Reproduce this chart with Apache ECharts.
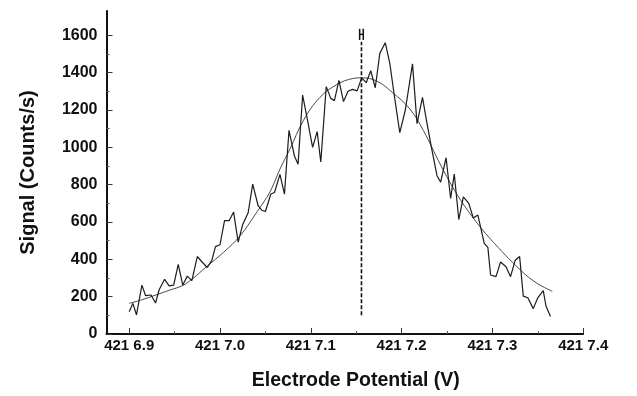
<!DOCTYPE html>
<html>
<head>
<meta charset="utf-8">
<script src="https://cdn.jsdelivr.net/npm/echarts@6/dist/echarts.min.js"></script>
<style>html,body{margin:0;padding:0;background:#fff}#c{width:637px;height:396px}</style>
</head>
<body>
<div id="c"></div>
<script>
// Measured signal (electrode potential V, counts/s)
const potential = [4216.900,4216.904,4216.908,4216.914,4216.918,4216.924,4216.929,4216.933,4216.939,4216.944,
4216.949,4216.954,4216.959,4216.964,4216.969,4216.975,4216.980,4216.986,4216.991,4216.995,
4217.000,4217.005,4217.010,4217.015,4217.020,4217.025,4217.031,4217.036,4217.042,4217.046,
4217.050,4217.056,4217.060,4217.066,4217.071,4217.076,4217.082,4217.086,4217.091,4217.096,
4217.102,4217.107,4217.111,4217.117,4217.122,4217.126,4217.131,4217.136,4217.141,4217.146,
4217.151,4217.156,4217.161,4217.166,4217.171,4217.176,4217.182,4217.187,4217.192,4217.198,
4217.204,4217.212,4217.217,4217.223,4217.228,4217.233,4217.239,4217.243,4217.249,4217.254,
4217.258,4217.263,4217.268,4217.274,4217.279,4217.284,4217.288,4217.291,4217.295,4217.298,
4217.304,4217.309,4217.315,4217.320,4217.325,4217.330,4217.334,4217.339,4217.345,4217.350,
4217.356,4217.359,4217.364];
const signal = [119,164,103,262,206,209,166,237,293,258,
262,373,262,310,286,415,387,356,394,468,
478,607,607,653,492,586,649,803,687,663,
656,750,758,855,749,1091,953,909,1280,1155,
1000,1084,921,1325,1262,1250,1359,1245,1300,1310,
1302,1372,1346,1410,1319,1503,1560,1450,1276,1079,
1197,1447,1127,1267,1127,996,848,813,944,726,
857,613,735,700,621,637,551,485,464,316,
307,386,360,307,394,415,203,194,136,194,
232,150,94];

// Fitted peak curve
const fitPotential = [4216.900,4216.915,4216.944,4216.959,4216.970,4216.985,4217.004,4217.022,4217.041,4217.055,
4217.066,4217.077,4217.092,4217.110,4217.129,4217.146,4217.156,4217.173,4217.190,4217.209,
4217.224,4217.243,4217.261,4217.279,4217.298,4217.331,4217.349,4217.366];
const fitSignal = [164,185,234,260,297,360,438,525,656,761,
883,990,1145,1267,1337,1368,1372,1354,1293,1206,
1090,905,748,621,508,342,272,229];

// Peak centre marker
const centroid = 4217.1558;
const centroidLine = [100, 1565];
const centroidMark = {x0: 4217.1538, x1: 4217.1578, y: 1605, lo: 1575, hi: 1635};

// Axes
const xTicks = [4216.9, 4217.0, 4217.1, 4217.2, 4217.3, 4217.4];
const xTickLabels = ['421 6.9', '421 7.0', '421 7.1', '421 7.2', '421 7.3', '421 7.4'];
const xMinorTicks = [4216.95, 4217.05, 4217.15, 4217.25, 4217.35];
const yTicks = [0, 200, 400, 600, 800, 1000, 1200, 1400, 1600];
const yTickLabels = ['0', '200', '400', '600', '800', '1000', '1200', '1400', '1600'];
const yMinorTicks = [100, 300, 500, 700, 900, 1100, 1300, 1500];
const xMin = 4216.875, xMax = 4217.4, yMin = 0, yMax = 1730;

const chart = echarts.init(document.getElementById('c'), null, {renderer: 'canvas'});
const font = 'Liberation Sans, Arial, Helvetica, sans-serif';
const pick = (ticks, labels) => v => { const i = ticks.findIndex(t => Math.abs(t - v) < 1e-6); return i >= 0 ? labels[i] : ''; };

const option = {
  animation: false,
  backgroundColor: '#fff',
  grid: {left: 106.5, right: 53.8, top: 11, bottom: 54, containLabel: false},
  xAxis: [{
    type: 'value', min: xMin, max: xMax,
    name: 'Electrode Potential (V)', nameLocation: 'middle', nameGap: 37,
    nameTextStyle: {fontFamily: font, fontWeight: 'bold', fontSize: 19.5, color: '#111', padding: [0, 0, 0, 22]},
    axisLine: {show: true, lineStyle: {color: '#111', width: 2}},
    axisTick: {show: true, inside: true, length: 6, customValues: xTicks, lineStyle: {color: '#333', width: 1}},
    axisLabel: {show: true, customValues: xTicks, margin: 4, fontFamily: font, fontWeight: 'bold', fontSize: 15, color: '#111',
      formatter: pick(xTicks, xTickLabels)},
    splitLine: {show: false}
  }, {
    type: 'value', min: xMin, max: xMax, position: 'bottom',
    axisLine: {show: false},
    axisTick: {show: true, inside: true, length: 3, customValues: xMinorTicks, lineStyle: {color: '#555', width: 1}},
    axisLabel: {show: false}, splitLine: {show: false}
  }],
  yAxis: [{
    type: 'value', min: yMin, max: yMax,
    name: 'Signal (Counts/s)', nameLocation: 'middle', nameGap: 68, nameRotate: 90,
    nameTextStyle: {fontFamily: font, fontWeight: 'bold', fontSize: 20, color: '#111'},
    axisLine: {show: true, lineStyle: {color: '#111', width: 2}},
    axisTick: {show: true, inside: true, length: 6, customValues: yTicks, lineStyle: {color: '#333', width: 1}},
    axisLabel: {show: true, customValues: yTicks, margin: 9, fontFamily: font, fontWeight: 'bold', fontSize: 16, color: '#111',
      formatter: pick(yTicks, yTickLabels)},
    splitLine: {show: false}
  }, {
    type: 'value', min: yMin, max: yMax, position: 'left',
    axisLine: {show: false},
    axisTick: {show: true, inside: true, length: 3, customValues: yMinorTicks, lineStyle: {color: '#555', width: 1}},
    axisLabel: {show: false}, splitLine: {show: false}
  }],
  series: [
    {
      type: 'line', xAxisIndex: 0, yAxisIndex: 0, showSymbol: false, symbol: 'none',
      data: potential.map((x, i) => [x, signal[i]]),
      lineStyle: {color: '#1c1c1c', width: 1.2}, z: 3
    },
    {
      type: 'line', xAxisIndex: 0, yAxisIndex: 0, showSymbol: false, symbol: 'none', smooth: 0.4,
      data: fitPotential.map((x, i) => [x, fitSignal[i]]),
      lineStyle: {color: '#4a4a4a', width: 1}, z: 2
    },
    {
      type: 'line', xAxisIndex: 0, yAxisIndex: 0, showSymbol: false, symbol: 'none',
      data: centroidLine.map(y => [centroid, y]),
      lineStyle: {color: '#111', width: 1.6, type: [4, 2]}, z: 4
    },
    {
      type: 'custom', xAxisIndex: 0, yAxisIndex: 0, z: 5,
      data: [[centroid, centroidMark.y]],
      renderItem: (params, api) => {
        const a = api.coord([centroidMark.x0, centroidMark.y]);
        const b = api.coord([centroidMark.x1, centroidMark.y]);
        const a1 = api.coord([centroidMark.x0, centroidMark.lo]);
        const a2 = api.coord([centroidMark.x0, centroidMark.hi]);
        const b1 = api.coord([centroidMark.x1, centroidMark.lo]);
        const b2 = api.coord([centroidMark.x1, centroidMark.hi]);
        const st = {stroke: '#111', lineWidth: 1.5};
        return {type: 'group', children: [
          {type: 'line', shape: {x1: a[0], y1: a[1], x2: b[0], y2: b[1]}, style: st},
          {type: 'line', shape: {x1: a1[0], y1: a1[1], x2: a2[0], y2: a2[1]}, style: st},
          {type: 'line', shape: {x1: b1[0], y1: b1[1], x2: b2[0], y2: b2[1]}, style: st}
        ]};
      }
    }
  ]
};
chart.setOption(option);
</script>
</body>
</html>
